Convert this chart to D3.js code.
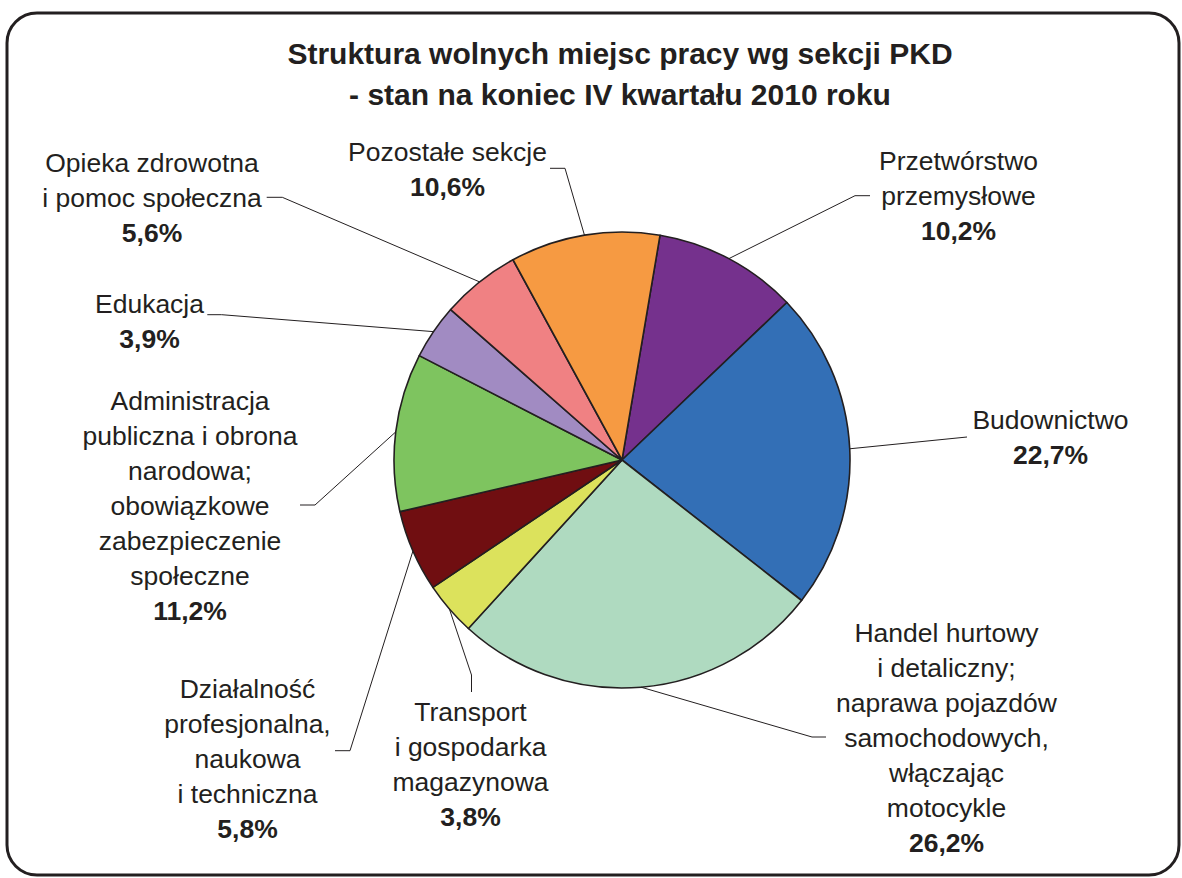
<!DOCTYPE html>
<html>
<head>
<meta charset="utf-8">
<script src="https://cdn.jsdelivr.net/npm/d3@7"></script>
<style>
  html, body { margin: 0; padding: 0; background: #fff; }
  svg { display: block; }
  text { font-family: "Liberation Sans", Arial, sans-serif; fill: #231f20; }
</style>
</head>
<body>
<svg id="chart" width="1182" height="878"></svg>
<script>
// ---- data ----
const categories = [
  "Przetwórstwo przemysłowe",
  "Budownictwo",
  "Handel hurtowy i detaliczny; naprawa pojazdów samochodowych, włączając motocykle",
  "Transport i gospodarka magazynowa",
  "Działalność profesjonalna, naukowa i techniczna",
  "Administracja publiczna i obrona narodowa; obowiązkowe zabezpieczenie społeczne",
  "Edukacja",
  "Opieka zdrowotna i pomoc społeczna",
  "Pozostałe sekcje"
];
const values = [10.2, 22.7, 26.2, 3.8, 5.8, 11.2, 3.9, 5.6, 10.6];
const labelLines = [
  ["Przetwórstwo", "przemysłowe"],
  ["Budownictwo"],
  ["Handel hurtowy", "i detaliczny;", "naprawa pojazdów", "samochodowych,", "włączając", "motocykle"],
  ["Transport", "i gospodarka", "magazynowa"],
  ["Działalność", "profesjonalna,", "naukowa", "i techniczna"],
  ["Administracja", "publiczna i obrona", "narodowa;", "obowiązkowe", "zabezpieczenie", "społeczne"],
  ["Edukacja"],
  ["Opieka zdrowotna", "i pomoc społeczna"],
  ["Pozostałe sekcje"]
];
const colors = ["#75318d", "#336fb6", "#afdac0", "#dce25c", "#700e11", "#7ec45f", "#a18bc2", "#f08183", "#f69a42"];
const titleLines = ["Struktura wolnych miejsc pracy wg sekcji PKD", "- stan na koniec IV kwartału 2010 roku"];

// ---- layout (positions only) ----
const W = 1182, H = 878;
const cx = 622, cy = 460, R = 228;
const startDeg = 9.6;
const lineH = 35;
// label block: center x, first baseline; leader bend points after the pie-edge point
const labelLayout = [
  { x: 958.5, y: 170, leader: [[855, 195.7], [870, 195.7]] },
  { x: 1050.5, y: 429, leader: [[967, 437]] },
  { x: 946.5, y: 642, leader: [[812, 737], [826, 737]] },
  { x: 470.5, y: 721, leader: [[471.5, 675], [471.5, 692]] },
  { x: 247.5, y: 698, leader: [[350, 750.7], [335, 750.7]] },
  { x: 190, y: 410, leader: [[315, 505], [300, 505]] },
  { x: 149.5, y: 313, leader: [[221.7, 314.7], [207.3, 314.7]] },
  { x: 152, y: 171.5, leader: [[282.3, 197.3], [266.7, 197.3]] },
  { x: 447.5, y: 161, leader: [[565, 168.3], [550, 168.3]] }
];

const svg = d3.select("#chart");

// frame
svg.append("rect")
  .attr("x", 7).attr("y", 13).attr("width", 1172).attr("height", 862)
  .attr("rx", 30).attr("ry", 30)
  .attr("fill", "none").attr("stroke", "#231f20").attr("stroke-width", 3);

// title
svg.append("g").selectAll("text").data(titleLines).join("text")
  .attr("x", 620)
  .attr("y", (d, i) => 64 + i * 41)
  .attr("text-anchor", "middle")
  .attr("font-size", 30)
  .attr("font-weight", "bold")
  .text(d => d);

// pie
const data = values.map((v, i) => ({ name: categories[i], value: v, lines: labelLines[i], color: colors[i], layout: labelLayout[i] }));
const off = startDeg * Math.PI / 180;
const pie = d3.pie().value(d => d.value).sort(null).startAngle(off).endAngle(off + 2 * Math.PI);
const arcs = pie(data);
const arc = d3.arc().innerRadius(0).outerRadius(R);

const g = svg.append("g").attr("transform", `translate(${cx},${cy})`);
g.selectAll("path").data(arcs).join("path")
  .attr("d", arc)
  .attr("fill", d => d.data.color)
  .attr("stroke", "#231f20")
  .attr("stroke-width", 1.6)
  .attr("stroke-linejoin", "round");

// leader lines
const edgePoint = d => {
  const a = (d.startAngle + d.endAngle) / 2;
  return [cx + R * Math.sin(a), cy - R * Math.cos(a)];
};
svg.append("g").selectAll("path").data(arcs).join("path")
  .attr("d", d => d3.line()([edgePoint(d), ...d.data.layout.leader]))
  .attr("fill", "none")
  .attr("stroke", "#231f20")
  .attr("stroke-width", 1);

// labels
const fmt = v => v.toFixed(1).replace(".", ",") + "%";
const lg = svg.append("g");
arcs.forEach(d => {
  const L = d.data.layout;
  const t = lg.append("text").attr("text-anchor", "middle").attr("font-size", 26.5);
  d.data.lines.forEach((ln, i) => {
    t.append("tspan").attr("x", L.x).attr("y", L.y + i * lineH).text(ln);
  });
  t.append("tspan").attr("x", L.x).attr("y", L.y + d.data.lines.length * lineH)
    .attr("font-weight", "bold").text(fmt(d.data.value));
});
</script>
</body>
</html>
